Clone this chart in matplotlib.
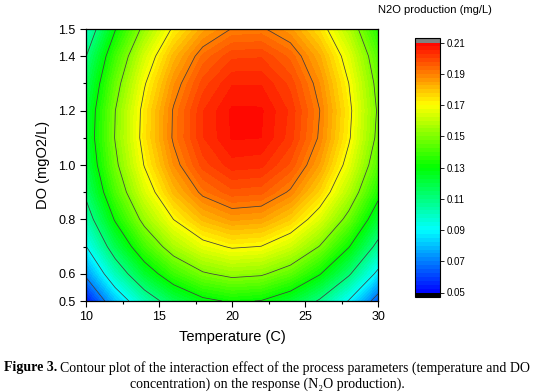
import numpy as np
import matplotlib.pyplot as plt
from matplotlib.colors import ListedColormap, BoundaryNorm, hsv_to_rgb
from matplotlib.ticker import MultipleLocator, FixedLocator

# data (N2O production, mg/L)
temperature = [10, 12, 14, 16, 18, 20, 22, 24, 26, 28, 30]
do_conc = [0.5, 0.6, 0.7, 0.8, 0.9, 1.0, 1.1, 1.2, 1.3, 1.4, 1.5]
n2o = [
    [0.0522, 0.0798, 0.1015, 0.1173, 0.1273, 0.1314, 0.1296, 0.1220, 0.1085, 0.0892, 0.0640],
    [0.0727, 0.1005, 0.1224, 0.1385, 0.1487, 0.1530, 0.1515, 0.1441, 0.1309, 0.1118, 0.0868],
    [0.0896, 0.1176, 0.1398, 0.1561, 0.1665, 0.1711, 0.1698, 0.1626, 0.1496, 0.1307, 0.1060],
    [0.1029, 0.1312, 0.1536, 0.1701, 0.1808, 0.1856, 0.1845, 0.1776, 0.1648, 0.1462, 0.1217],
    [0.1128, 0.1413, 0.1639, 0.1807, 0.1916, 0.1966, 0.1958, 0.1891, 0.1766, 0.1582, 0.1339],
    [0.1189, 0.1476, 0.1705, 0.1875, 0.1987, 0.2039, 0.2033, 0.1969, 0.1846, 0.1664, 0.1424],
    [0.1216, 0.1506, 0.1737, 0.1910, 0.2023, 0.2078, 0.2075, 0.2013, 0.1892, 0.1712, 0.1474],
    [0.1207, 0.1499, 0.1732, 0.1907, 0.2023, 0.2080, 0.2079, 0.2019, 0.1901, 0.1724, 0.1488],
    [0.1162, 0.1456, 0.1692, 0.1869, 0.1987, 0.2047, 0.2048, 0.1991, 0.1875, 0.1700, 0.1467],
    [0.1097, 0.1393, 0.1631, 0.1811, 0.1932, 0.1994, 0.1997, 0.1942, 0.1829, 0.1656, 0.1425],
    [0.0995, 0.1294, 0.1534, 0.1716, 0.1839, 0.1903, 0.1909, 0.1857, 0.1745, 0.1575, 0.1346],
]
cbar_ticks = [0.05, 0.07, 0.09, 0.11, 0.13, 0.15, 0.17, 0.19, 0.21]
line_levels = [0.07, 0.09, 0.11, 0.13, 0.15, 0.17, 0.19]

# Origin-like rainbow: hue runs blue -> red across 0.05..0.21
levels = np.linspace(0.05, 0.21, 65)
mids = (levels[:-1] + levels[1:]) / 2
hue = (240 - 240 * (mids - 0.05) / 0.16) / 360
rgb = hsv_to_rgb(np.column_stack([hue, np.ones_like(hue), np.ones_like(hue)]))
cmap = ListedColormap(rgb)
cmap.set_over('#808080')
cmap.set_under('black')
norm = BoundaryNorm(levels, cmap.N)

fig = plt.figure(figsize=(5.35, 3.92), dpi=100)
ax = fig.add_axes([86 / 535, 1 - 301 / 392, 292 / 535, 272 / 392])
cax = fig.add_axes([415 / 535, 1 - 297 / 392, 25 / 535, 259 / 392])

T, D = np.meshgrid(temperature, do_conc)
Z = np.array(n2o)
cs = ax.contourf(T, D, Z, levels=levels, cmap=cmap, norm=norm, extend='both')
ax.contour(T, D, Z, levels=line_levels, colors='#404040', linewidths=0.55)

sans = ['Liberation Sans', 'DejaVu Sans']
ax.set_xlim(10, 30)
ax.set_ylim(0.5, 1.5)
ax.xaxis.set_major_locator(MultipleLocator(5))
ax.xaxis.set_minor_locator(MultipleLocator(2.5))
ax.yaxis.set_major_locator(FixedLocator([0.5, 0.6, 0.8, 1.0, 1.2, 1.4, 1.5]))
ax.yaxis.set_minor_locator(FixedLocator([0.7, 0.9, 1.1, 1.3]))
ax.tick_params(which='both', direction='out', length=4, width=0.8, labelsize=9)
ax.tick_params(which='minor', length=2.5)
for lbl in ax.get_xticklabels() + ax.get_yticklabels():
    lbl.set_family(sans)
ax.set_xlabel('Temperature (C)', family=sans, fontsize=10.5, labelpad=5)
ax.set_ylabel('DO (mgO2/L)', family=sans, fontsize=10.5, labelpad=6)
for s in ax.spines.values():
    s.set_linewidth(0.9)

cb = fig.colorbar(cs, cax=cax, ticks=cbar_ticks, extend='both',
                  extendrect=True, extendfrac=0.018, drawedges=False)
cb.minorticks_off()
cb.outline.set_linewidth(0.8)
cax.tick_params(direction='out', length=3, width=0.6, labelsize=7, pad=2)
cax.set_yticklabels([f'{v:.2f}' for v in cbar_ticks], family=sans)
fig.text(435 / 535, 1 - 10 / 392, 'N2O production (mg/L)', family=sans,
         fontsize=8, ha='center', va='center')

serif = ['Liberation Serif', 'DejaVu Serif']
fig.canvas.draw()
r = fig.canvas.get_renderer()
t1 = fig.text(4 / 535, 1 - 368 / 392, 'Figure 3.', family=serif, fontsize=10,
              fontweight='bold', va='center', ha='left')
bb = t1.get_window_extent(renderer=r)
fig.text((bb.x1 + 3) / 535, 1 - 368 / 392,
         'Contour plot of the interaction effect of the process parameters (temperature and DO',
         family=serif, fontsize=10, va='center', ha='left')
fig.text(0.5, 1 - 384 / 392,
         'concentration) on the response (N\u2082O production).',
         family=serif, fontsize=10, va='center', ha='center')

fig.savefig('out.png', dpi=100)
